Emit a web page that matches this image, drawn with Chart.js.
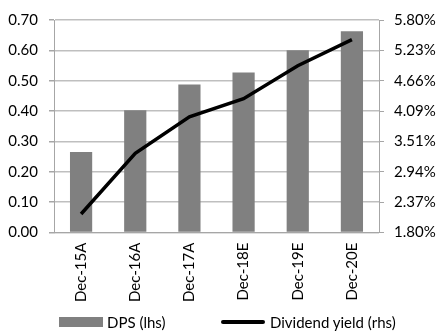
<!DOCTYPE html>
<html>
<head>
<meta charset="utf-8">
<script src="https://cdn.jsdelivr.net/npm/chart.js@4/dist/chart.umd.min.js"></script>
<style>
  html, body { margin: 0; padding: 0; background: #ffffff; }
  #wrap { position: relative; width: 436px; height: 336px; }
  #legend { position: absolute; left: 0; top: 312px; width: 436px; height: 20px;
            font-family: Lato, sans-serif; font-size: 15px; color: #000; }
  .item { position: absolute; top: 0; height: 20px; line-height: 20px; white-space: nowrap; }
  .swatch { position: absolute; left: 0; width: 44px; }
  .txt { position: absolute; top: 0; }
</style>
</head>
<body>
<div id="wrap">
  <canvas id="chart" width="436" height="336"></canvas>
  <div id="legend"></div>
</div>
<script>
const categories = ["Dec-15A", "Dec-16A", "Dec-17A", "Dec-18E", "Dec-19E", "Dec-20E"];
const dps = [0.265, 0.403, 0.488, 0.527, 0.600, 0.663];
const dividendYield = [2.15, 3.29, 3.98, 4.32, 4.94, 5.43];
const leftTicks = { min: 0, max: 0.7, step: 0.1 };
const rightTicks = { min: 1.8, max: 5.8, step: 4 / 7 };

const gridColor = "#bfbfbf";
const axisColor = "#a6a6a6";
const font = { family: "Lato", size: 15 };

Chart.defaults.font.family = "Lato";
Chart.defaults.color = "#000000";

// line first so it is drawn on top of the bars
const chart = new Chart(document.getElementById("chart"), {
  data: {
    labels: categories,
    datasets: [
      {
        type: "line",
        label: "Dividend yield (rhs)",
        data: dividendYield,
        yAxisID: "y1",
        borderColor: "#000000",
        backgroundColor: "#000000",
        borderWidth: 3.5,
        pointRadius: 0,
        tension: 0,
      },
      {
        type: "bar",
        label: "DPS (lhs)",
        data: dps,
        yAxisID: "y",
        backgroundColor: "#808080",
        borderWidth: 0,
        barPercentage: 0.41,
        categoryPercentage: 1,
      },
    ],
  },
  options: {
    responsive: false,
    animation: false,
    layout: { padding: { left: 0, right: 0, top: 7, bottom: 24 } },
    plugins: {
      tooltip: { enabled: false },
      legend: { display: false },
    },
    scales: {
      x: {
        grid: { display: false, drawTicks: false },
        border: { color: axisColor },
        ticks: { font: font, minRotation: 90, maxRotation: 90, padding: 10, autoSkip: false },
      },
      y: {
        position: "left",
        min: leftTicks.min,
        max: leftTicks.max,
        afterFit: (s) => { s.width = 54; },
        grid: { color: gridColor, lineWidth: 1.5, tickLength: 5, tickColor: axisColor },
        border: { color: axisColor },
        ticks: {
          font: font,
          stepSize: leftTicks.step,
          padding: 11,
          autoSkip: false,
          callback: (v) => v.toFixed(2),
        },
      },
      y1: {
        position: "right",
        min: rightTicks.min,
        max: rightTicks.max,
        afterFit: (s) => { s.width = 57; },
        grid: { drawOnChartArea: false, tickLength: 5, tickColor: axisColor },
        border: { color: axisColor },
        ticks: {
          font: font,
          stepSize: rightTicks.step,
          padding: 10,
          autoSkip: false,
          callback: (v) => v.toFixed(2) + "%",
        },
      },
    },
  },
});

// legend below the plot, built from the chart's datasets
const legendItems = [
  { ds: chart.data.datasets[1], left: 59, kind: "box" },
  { ds: chart.data.datasets[0], left: 221, kind: "line" },
];
const legend = document.getElementById("legend");
legendItems.forEach((it) => {
  const item = document.createElement("div");
  item.className = "item";
  item.style.left = it.left + "px";
  const sw = document.createElement("div");
  sw.className = "swatch";
  if (it.kind === "box") {
    sw.style.top = "5px";
    sw.style.height = "10px";
    sw.style.background = it.ds.backgroundColor;
  } else {
    sw.style.top = "8px";
    sw.style.height = "4px";
    sw.style.borderRadius = "2px";
    sw.style.background = it.ds.borderColor;
  }
  const t = document.createElement("span");
  t.className = "txt";
  t.style.left = (it.kind === "box" ? 48 : 49) + "px";
  t.textContent = it.ds.label;
  item.appendChild(sw);
  item.appendChild(t);
  legend.appendChild(item);
});
</script>
</body>
</html>
